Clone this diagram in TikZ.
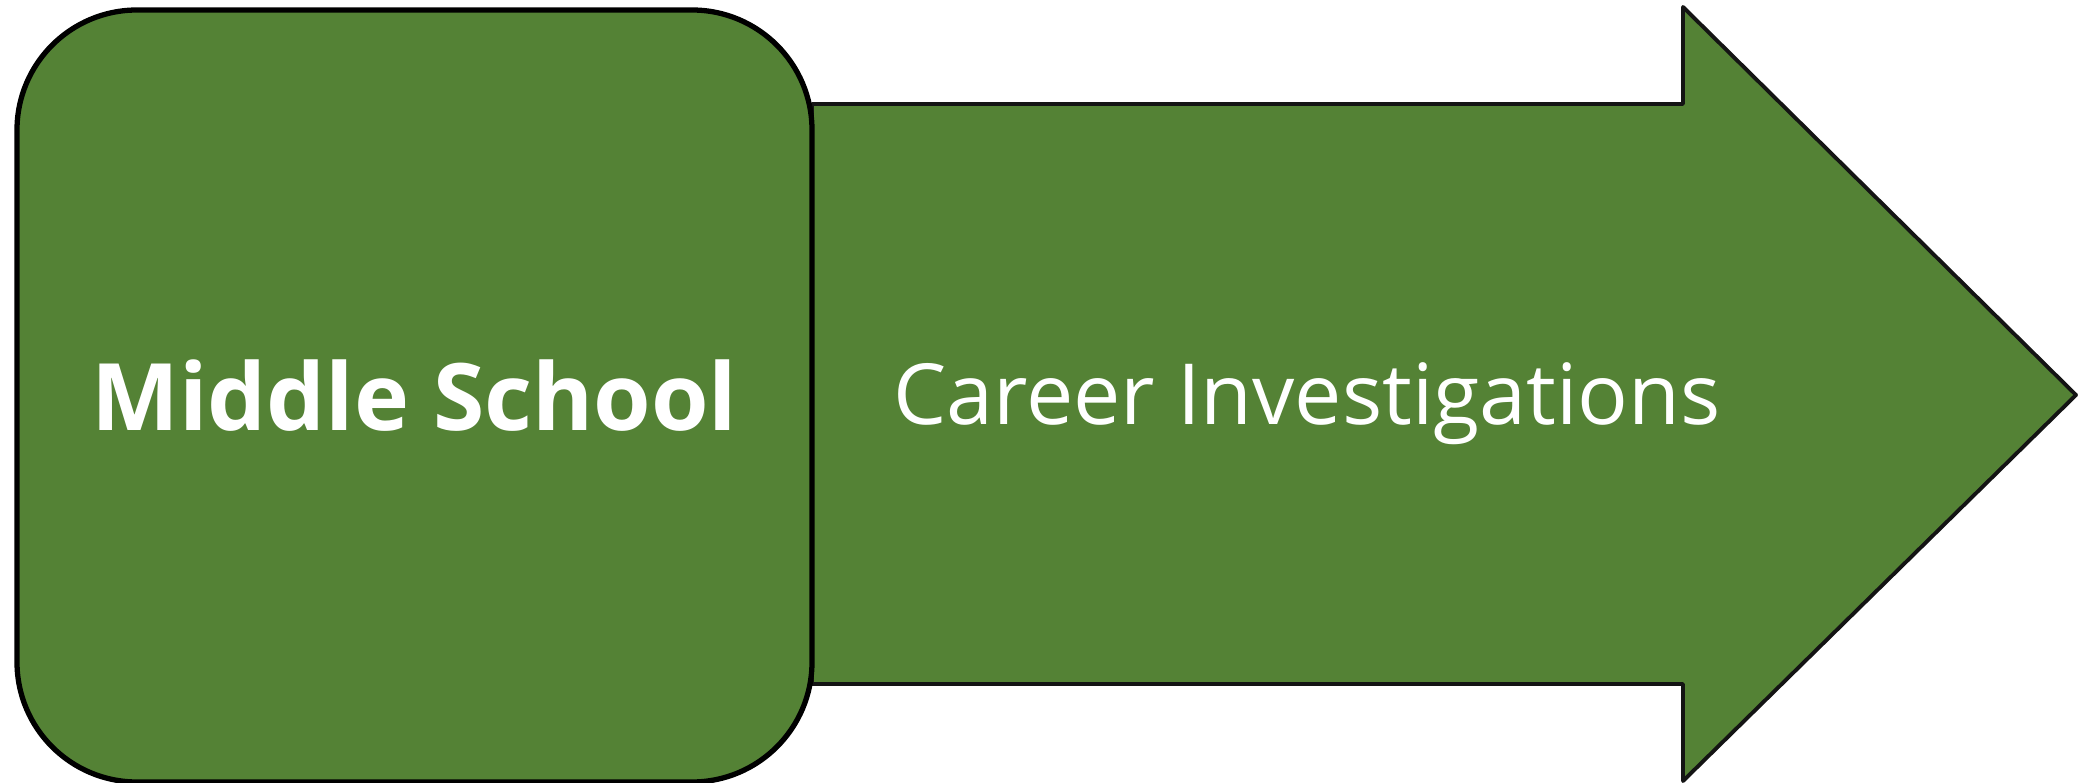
\documentclass[tikz,border=0pt]{standalone}
\usepackage{fontspec}
\setmainfont{Open Sans}
\usepackage{tikz}
\definecolor{stagegreen}{RGB}{84,130,53}

\begin{document}
\begin{tikzpicture}[scale=1.0,
  stagebox/.style={draw=black,line width=1.5pt,fill=stagegreen,rounded corners=1.2cm,
    minimum width=7.95cm,minimum height=7.72cm,inner sep=0pt,text=white,
    font=\fontsize{26.5}{30}\selectfont\bfseries},
  stagearrow/.style={draw=black!92,line width=1.1pt,fill=stagegreen,line join=round},
  arrowtext/.style={text=white,inner sep=0pt,font=\fontsize{24}{28}\selectfont}]
\useasboundingbox (0,0) rectangle (20.78,7.82);

\coordinate (shaftlow) at (8.12,0.98);
\coordinate (shafthigh) at (8.12,6.78);
\coordinate (tip) at (20.76,3.87);
\draw[stagearrow] (shaftlow) -- (16.83,0.98) -- (16.83,0.01) -- (tip)
  -- (16.83,7.75) -- (16.83,6.78) -- (shafthigh) -- cycle;
\node[arrowtext,anchor=base] (career) at (13.07,3.57) {Career Investigations};

\node[stagebox] (middle) at (4.145,3.86) {Middle School};
\end{tikzpicture}
\end{document}
